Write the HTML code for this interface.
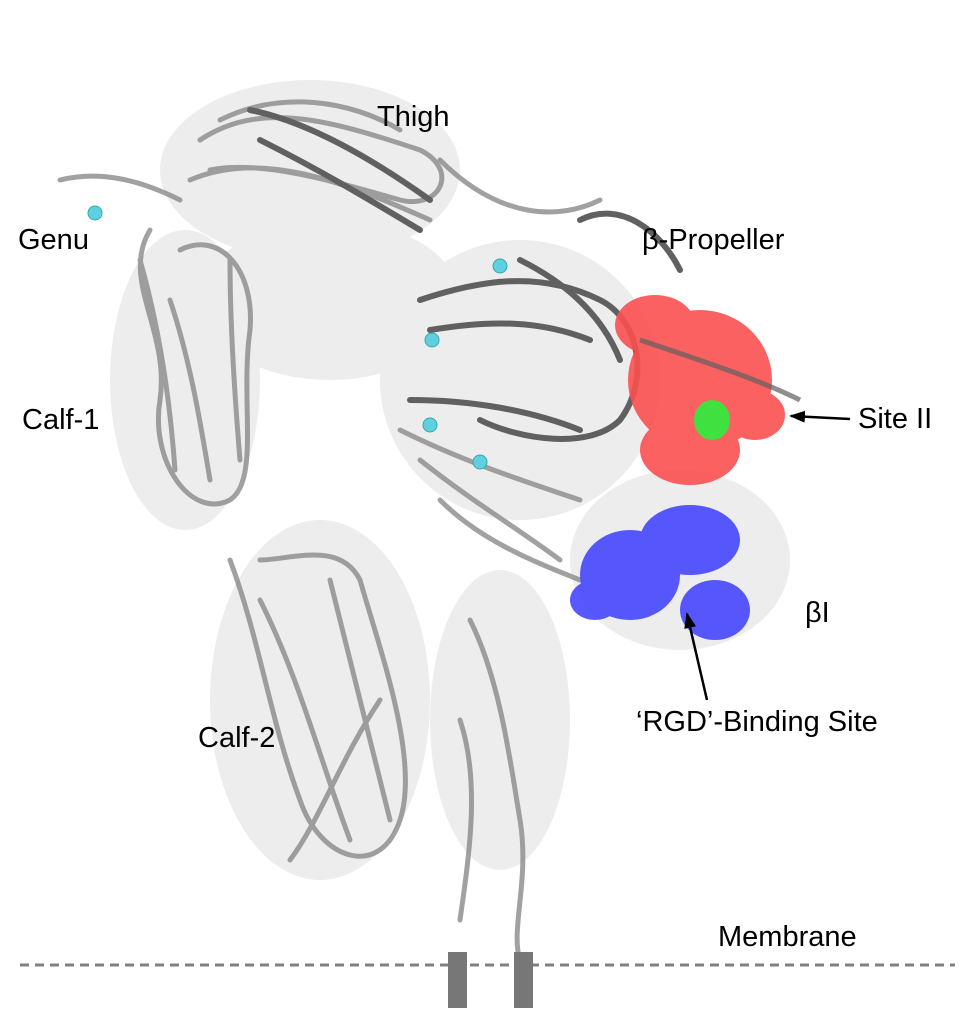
<!DOCTYPE html>
<html><head><meta charset="utf-8"><style>
html,body{margin:0;padding:0;background:#fff;}
svg{display:block;}
text{font-family:"Liberation Sans",Arial,sans-serif;font-size:29px;fill:#000;}
</style></head><body>
<svg width="972" height="1013" viewBox="0 0 972 1013">
<defs>
<marker id="ar" markerUnits="userSpaceOnUse" markerWidth="16" markerHeight="12" refX="14" refY="6" orient="auto"><path d="M0,0 L16,6 L0,12 z" fill="#000"/></marker>
</defs>
<g fill="#d8d8d8" opacity="0.45">
<ellipse cx="310" cy="170" rx="150" ry="90"/>
<ellipse cx="330" cy="300" rx="130" ry="80"/>
<ellipse cx="185" cy="380" rx="75" ry="150"/>
<ellipse cx="320" cy="700" rx="110" ry="180"/>
<ellipse cx="520" cy="380" rx="140" ry="140"/>
<ellipse cx="500" cy="720" rx="70" ry="150"/>
<ellipse cx="680" cy="560" rx="110" ry="90"/>
</g>
<g fill="none" stroke="#8a8a8a" stroke-width="5" stroke-linecap="round" opacity="0.8">
<path d="M200,140 C260,100 330,120 420,150 C460,170 440,210 400,200 C330,180 260,160 210,170"/>
<path d="M190,180 C260,150 340,180 430,220 M220,120 C280,90 350,100 400,130"/>
<path d="M150,230 C120,280 170,330 160,400 C150,460 190,520 230,500 C260,480 240,400 250,330 C255,270 220,230 180,250"/>
<path d="M170,300 C190,360 200,420 210,480 M140,260 C160,330 170,400 175,470 M230,260 C230,330 235,400 240,460"/>
<path d="M230,560 C260,640 270,720 300,800 C320,860 380,880 400,820 C420,760 380,650 360,580 C340,540 290,560 260,560"/>
<path d="M260,600 C300,680 320,760 350,840 M330,580 C350,660 370,740 390,820 M290,860 C320,820 340,760 380,700"/>
<path d="M420,460 C470,500 520,530 560,560 M440,500 C480,540 530,560 580,580 M400,430 C460,460 520,480 580,500"/>
<path d="M470,620 C500,680 510,760 520,820 C530,880 510,930 520,960 M460,720 C480,780 470,850 460,920"/>
<path d="M440,160 C500,220 560,220 600,200 M60,180 C100,170 140,180 180,200"/>
</g>
<g fill="none" stroke="#606060" stroke-width="6" stroke-linecap="round">
<path d="M250,110 C300,120 360,150 430,200 M260,140 C320,170 370,200 420,230"/>
<path d="M420,300 C480,280 540,270 600,300 C640,320 650,380 620,420 C590,450 520,440 480,420"/>
<path d="M430,330 C490,320 540,320 590,340 M410,400 C470,400 530,410 580,430 M520,260 C560,280 600,310 620,360"/>
<path d="M580,220 C620,200 660,230 680,270"/>
</g>
<g fill="#fb5050" opacity="0.9">
<ellipse cx="700" cy="380" rx="72" ry="70"/>
<ellipse cx="690" cy="450" rx="50" ry="35"/>
<ellipse cx="655" cy="325" rx="40" ry="30"/>
<ellipse cx="755" cy="415" rx="30" ry="25"/>
</g>
<path d="M640,340 C700,360 760,380 800,400" fill="none" stroke="#606060" stroke-width="5" opacity="0.7"/>
<ellipse cx="712" cy="420" rx="18" ry="20" fill="#40e040"/>
<g fill="#4a4aff" opacity="0.92">
<ellipse cx="630" cy="575" rx="50" ry="45"/>
<ellipse cx="690" cy="540" rx="50" ry="35"/>
<ellipse cx="715" cy="610" rx="35" ry="30"/>
<ellipse cx="595" cy="600" rx="25" ry="20"/>
</g>
<g fill="#5fd0e0" stroke="#3aa" stroke-width="1">
<circle cx="95" cy="213" r="7"/><circle cx="500" cy="266" r="7"/><circle cx="432" cy="340" r="7"/><circle cx="430" cy="425" r="7"/><circle cx="480" cy="462" r="7"/>
</g>
<text x="377" y="126">Thigh</text>
<text x="18" y="249">Genu</text>
<text x="642" y="249">β-Propeller</text>
<text x="22" y="429">Calf-1</text>
<text x="858" y="428">Site II</text>
<text x="805" y="622">βI</text>
<text x="198" y="747">Calf-2</text>
<text x="636" y="731">‘RGD’-Binding Site</text>
<text x="718" y="946">Membrane</text>
<line x1="850" y1="419" x2="791" y2="416" stroke="#000" stroke-width="2.5" marker-end="url(#ar)"/>
<line x1="707" y1="700" x2="687" y2="614" stroke="#000" stroke-width="2.5" marker-end="url(#ar)"/>
<line x1="20" y1="965" x2="955" y2="965" stroke="#808080" stroke-width="3" stroke-dasharray="9,6"/>
<rect x="448" y="952" width="19" height="56" fill="#777"/>
<rect x="514" y="952" width="19" height="56" fill="#777"/>
</svg>
</body></html>
